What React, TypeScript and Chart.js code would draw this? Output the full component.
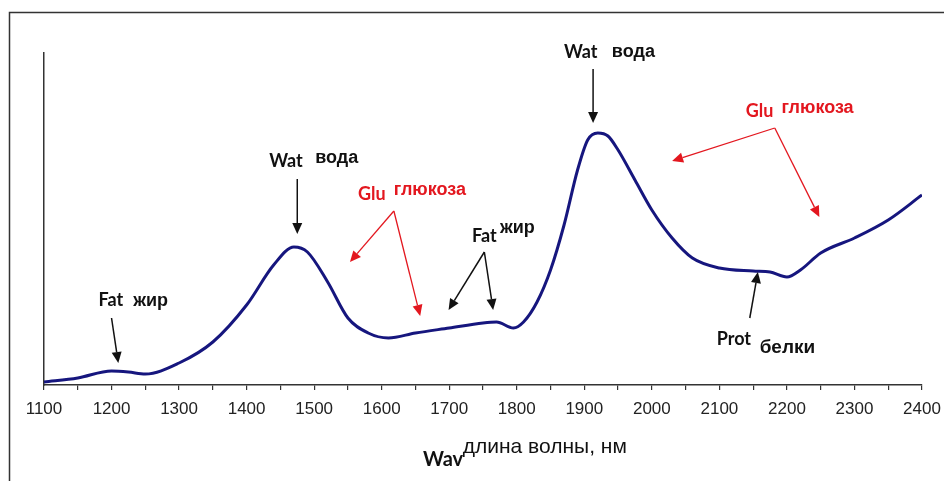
import React, { useEffect, useRef } from "react";
import { Chart, registerables } from "chart.js";

Chart.register(...registerables);

// Spectrum (wavelength in nm, relative absorbance)
const wavelengths = [
  1100, 1150, 1200, 1225, 1250, 1300, 1350, 1400, 1440, 1470, 1490, 1520, 1550, 1580, 1610,
  1650, 1700, 1750, 1770, 1795, 1810, 1830, 1850, 1870, 1890, 1905, 1920, 1935, 1950, 1975,
  2000, 2030, 2060, 2100, 2150, 2175, 2200, 2220, 2250, 2300, 2350, 2400,
];
const absorbance = [
  3, 7, 14, 13, 11, 22, 43, 80, 120, 138, 133, 103, 67, 52, 47,
  52, 57, 62, 63, 57, 63, 83, 115, 160, 215, 245, 252, 249, 235, 205,
  175, 147, 127, 117, 114, 113, 108, 115, 132, 147, 165, 190,
];
const tickValues = [1100, 1200, 1300, 1400, 1500, 1600, 1700, 1800, 1900, 2000, 2100, 2200, 2300, 2400];
const tickLabels = ["1100", "1200", "1300", "1400", "1500", "1600", "1700", "1800", "1900", "2000", "2100", "2200", "2300", "2400"];

// Annotation texts (anchored in data coordinates: nm, value at text baseline)
const RED = "#e3171f";
const BLACK = "#111111";
const EN = 'bold 18px Lato, "Liberation Sans", sans-serif';
const RU = 'bold 18px "Liberation Sans", Arial, sans-serif';
const annotationTexts = [
  { text: "Fat", nm: 1180.6, v: 79, color: BLACK, font: EN },
  { text: "жир", nm: 1232, v: 79, color: BLACK, font: RU },
  { text: "Wat", nm: 1433.5, v: 218, color: BLACK, font: EN },
  { text: "вода", nm: 1501.5, v: 222, color: BLACK, font: RU },
  { text: "Glu", nm: 1565, v: 185, color: RED, font: EN },
  { text: "глюкоза", nm: 1618, v: 190, color: RED, font: RU },
  { text: "Fat", nm: 1733.7, v: 143, color: BLACK, font: EN },
  { text: "жир", nm: 1775, v: 152, color: BLACK, font: RU },
  { text: "Wat", nm: 1869.8, v: 327, color: BLACK, font: EN },
  { text: "вода", nm: 1940.8, v: 328, color: BLACK, font: RU },
  { text: "Glu", nm: 2139, v: 268, color: RED, font: EN },
  { text: "глюкоза", nm: 2192, v: 272, color: RED, font: RU },
  { text: "Prot", nm: 2096, v: 40, color: BLACK, font: EN },
  { text: "белки", nm: 2159.6, v: 32, color: BLACK, font: 'bold 19px "Liberation Sans", Arial, sans-serif' },
  { text: "Wav", nm: 1661, v: -81, color: BLACK, font: 'bold 20px Lato, "Liberation Sans", sans-serif' },
  { text: "длина волны, нм", nm: 1720, v: -68, color: BLACK, font: '21px "Liberation Sans", Arial, sans-serif' },
];
// Arrows: from [nm, value] to [nm, value]
const annotationArrows = [
  { from: [1200, 67], to: [1210, 22], color: BLACK },
  { from: [1475, 206], to: [1475, 151], color: BLACK },
  { from: [1618, 174], to: [1553, 123], color: RED },
  { from: [1618, 174], to: [1657, 69], color: RED },
  { from: [1752, 133], to: [1699, 75], color: BLACK },
  { from: [1752, 133], to: [1765, 75], color: BLACK },
  { from: [1913, 316], to: [1913, 262], color: BLACK },
  { from: [2182, 257], to: [2030, 224], color: RED },
  { from: [2182, 257], to: [2248, 168], color: RED },
  { from: [2145, 67], to: [2157, 113], color: BLACK },
];

const framePlugin = {
  id: "frame",
  beforeDraw(chart: any) {
    const ctx = chart.ctx;
    ctx.save();
    ctx.fillStyle = "#ffffff";
    ctx.fillRect(0, 0, chart.width, chart.height);
    ctx.strokeStyle = "#333333";
    ctx.lineWidth = 1.5;
    ctx.beginPath();
    ctx.moveTo(9.5, chart.height);
    ctx.lineTo(9.5, 12.5);
    ctx.lineTo(chart.width, 12.5);
    ctx.stroke();
    ctx.restore();
  },
};

const annotationPlugin = {
  id: "annotations",
  afterDraw(chart: any) {
    const ctx = chart.ctx;
    const xs = chart.scales.x;
    const ys = chart.scales.y;
    ctx.save();
    for (const a of annotationArrows) {
      const x1 = xs.getPixelForValue(a.from[0]);
      const y1 = ys.getPixelForValue(a.from[1]);
      const x2 = xs.getPixelForValue(a.to[0]);
      const y2 = ys.getPixelForValue(a.to[1]);
      const ang = Math.atan2(y2 - y1, x2 - x1);
      const headLen = 11;
      const headW = 5;
      const bx = x2 - headLen * Math.cos(ang);
      const by = y2 - headLen * Math.sin(ang);
      ctx.strokeStyle = a.color;
      ctx.fillStyle = a.color;
      ctx.lineWidth = a.color === RED ? 1.3 : 1.5;
      ctx.beginPath();
      ctx.moveTo(x1, y1);
      ctx.lineTo(bx, by);
      ctx.stroke();
      ctx.beginPath();
      ctx.moveTo(x2, y2);
      ctx.lineTo(bx + headW * Math.sin(ang), by - headW * Math.cos(ang));
      ctx.lineTo(bx - headW * Math.sin(ang), by + headW * Math.cos(ang));
      ctx.closePath();
      ctx.fill();
    }
    ctx.textAlign = "left";
    ctx.textBaseline = "alphabetic";
    for (const t of annotationTexts) {
      ctx.font = t.font;
      ctx.fillStyle = t.color;
      ctx.fillText(t.text, xs.getPixelForValue(t.nm), ys.getPixelForValue(t.v));
    }
    ctx.restore();
  },
};

export default function App() {
  const canvasRef = useRef<HTMLCanvasElement | null>(null);

  useEffect(() => {
    if (!canvasRef.current) return;
    const chart = new Chart(canvasRef.current, {
      type: "line",
      data: {
        datasets: [
          {
            data: wavelengths.map((w, i) => ({ x: w, y: absorbance[i] })),
            borderColor: "#16167e",
            borderWidth: 3,
            pointRadius: 0,
            cubicInterpolationMode: "monotone",
            fill: false,
          },
        ],
      },
      options: {
        animation: false,
        responsive: false,
        devicePixelRatio: 1,
        layout: { padding: { top: 53, left: 36, right: 22, bottom: 0 } },
        plugins: { legend: { display: false }, tooltip: { enabled: false } },
        scales: {
          x: {
            type: "linear",
            min: 1100,
            max: 2400,
            afterBuildTicks: (scale: any) => {
              const t: any[] = [];
              for (let v = 1100; v <= 2400; v += 50) t.push({ value: v });
              scale.ticks = t;
            },
            afterFit: (scale: any) => {
              scale.height = 96;
              scale.paddingLeft = 0;
              scale.paddingRight = 0;
            },
            ticks: {
              autoSkip: false,
              maxRotation: 0,
              padding: 9,
              color: "#222222",
              font: { family: '"Liberation Sans", Arial, sans-serif', size: 17 },
              callback: (v: any) => {
                const i = tickValues.indexOf(Number(v));
                return i >= 0 ? tickLabels[i] : "";
              },
            },
            grid: {
              display: true,
              drawOnChartArea: false,
              drawTicks: true,
              tickLength: 5,
              color: "#333333",
              lineWidth: 1.2,
            },
            border: { display: true, color: "#333333", width: 1.5 },
          },
          y: {
            type: "linear",
            min: 0,
            max: 332,
            ticks: { display: false },
            grid: { display: false },
            border: { display: true, color: "#333333", width: 1.5 },
          },
        },
      },
      plugins: [framePlugin, annotationPlugin],
    });
    return () => chart.destroy();
  }, []);

  return (
    <div style={{ position: "absolute", left: 0, top: 0, width: 944, height: 481, background: "#fff" }}>
      <canvas ref={canvasRef} width={944} height={481} style={{ display: "block" }} />
    </div>
  );
}
